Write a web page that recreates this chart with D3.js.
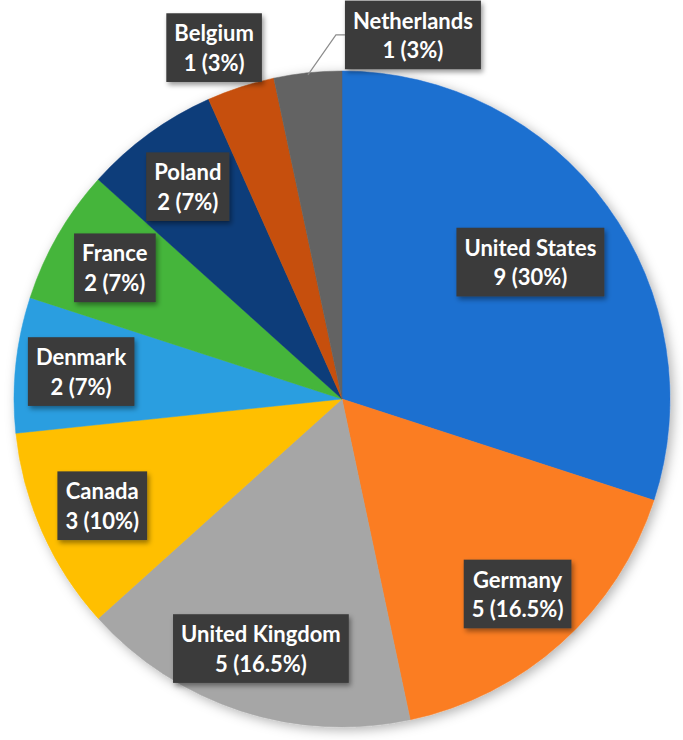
<!DOCTYPE html>
<html>
<head>
<meta charset="utf-8">
<script src="https://cdn.jsdelivr.net/npm/d3@7"></script>
<style>
  body { margin: 0; background: #fff; }
  svg { display: block; }
  .lbl text { font-family: Lato, "Open Sans", sans-serif; font-weight: bold; font-size: 22px; fill: #fff; }
</style>
</head>
<body>
<svg width="683" height="740"></svg>
<script>
const countries = ["United States", "Germany", "United Kingdom", "Canada", "Denmark", "France", "Poland", "Belgium", "Netherlands"];
const counts = [9, 5, 5, 3, 2, 2, 2, 1, 1];
const percents = ["30%", "16.5%", "16.5%", "10%", "7%", "7%", "7%", "3%", "3%"];
const colors = ["#1f6fd0", "#fb7d22", "#a6a6a6", "#ffbf00", "#2a9ee0", "#45b53a", "#0d3c7a", "#c6500a", "#636363"];

const svg = d3.select("svg");
const cx = 342, cy = 399, R = 328;

const defs = svg.append("defs");
const sh = defs.append("filter").attr("id", "pieShadow")
  .attr("x", "-10%").attr("y", "-10%").attr("width", "120%").attr("height", "120%");
sh.append("feDropShadow").attr("dx", 3).attr("dy", 3).attr("stdDeviation", 6)
  .attr("flood-color", "#000").attr("flood-opacity", 0.3);
const bs = defs.append("filter").attr("id", "boxShadow")
  .attr("x", "-20%").attr("y", "-20%").attr("width", "140%").attr("height", "150%");
bs.append("feDropShadow").attr("dx", 2).attr("dy", 3).attr("stdDeviation", 2.5)
  .attr("flood-color", "#000").attr("flood-opacity", 0.4);

const data = countries.map((c, i) => ({ name: c, value: counts[i], pct: percents[i], color: colors[i] }));

const pie = d3.pie().value(d => d.value).sort(null);
const arcs = pie(data);
const arc = d3.arc().innerRadius(0).outerRadius(R);

const g = svg.append("g").attr("transform", `translate(${cx},${cy})`);

g.append("g").attr("filter", "url(#pieShadow)")
  .selectAll("path")
  .data(arcs)
  .enter().append("path")
  .attr("d", arc)
  .attr("fill", d => d.data.color)
  .attr("stroke", d => d.data.color)
  .attr("stroke-width", 0.5);

// label radius as a fraction of R (default 0.8)
const labelRadius = { "United States": 0.71, "Belgium": 1.14 };
// small angle nudges (degrees)
const labelNudge = { "Belgium": -2 };

function polar(angle, r) {
  return [Math.sin(angle) * r, -Math.cos(angle) * r];
}

const labels = g.append("g").attr("class", "lbl");

arcs.forEach(a => {
  const name = a.data.name;
  const mid = (a.startAngle + a.endAngle) / 2;
  const ang = mid + (labelNudge[name] || 0) * Math.PI / 180;
  const lg = labels.append("g");
  const t = lg.append("text").attr("text-anchor", "middle");
  t.append("tspan").attr("x", 0).attr("dy", "-0.25em").text(name);
  t.append("tspan").attr("x", 0).attr("dy", "1.35em").text(`${a.data.value} (${a.data.pct})`);
  const bb = t.node().getBBox();
  const padX = 8, padY = 6;
  const w = bb.width + padX * 2, h = bb.height + padY * 2;
  lg.insert("rect", "text")
    .attr("x", bb.x - padX).attr("y", bb.y - padY)
    .attr("width", w).attr("height", h)
    .attr("fill", "#3a3a3a")
    .attr("filter", "url(#boxShadow)");
  if (name === "Netherlands") {
    // box sits above the pie, to the right of its slice, with a leader line
    const start = polar(mid, R - 2);
    const elbow = [start[0] + 28, -R - 0.11 * R];
    const boxLeft = elbow[0] + 9;
    const bx = boxLeft - (bb.x - padX);
    const by = elbow[1] - (bb.y - padY + h / 2);
    lg.attr("transform", `translate(${bx},${by})`);
    labels.insert("path", ":first-child")
      .attr("d", d3.line()([start, elbow, [boxLeft, elbow[1]]]))
      .attr("fill", "none")
      .attr("stroke", "#8c8c8c")
      .attr("stroke-width", 1.2);
  } else {
    const pos = polar(ang, R * (labelRadius[name] || 0.8));
    const cyOff = bb.y - padY + h / 2;
    lg.attr("transform", `translate(${pos[0]},${pos[1] - cyOff})`);
  }
});
</script>
</body>
</html>
